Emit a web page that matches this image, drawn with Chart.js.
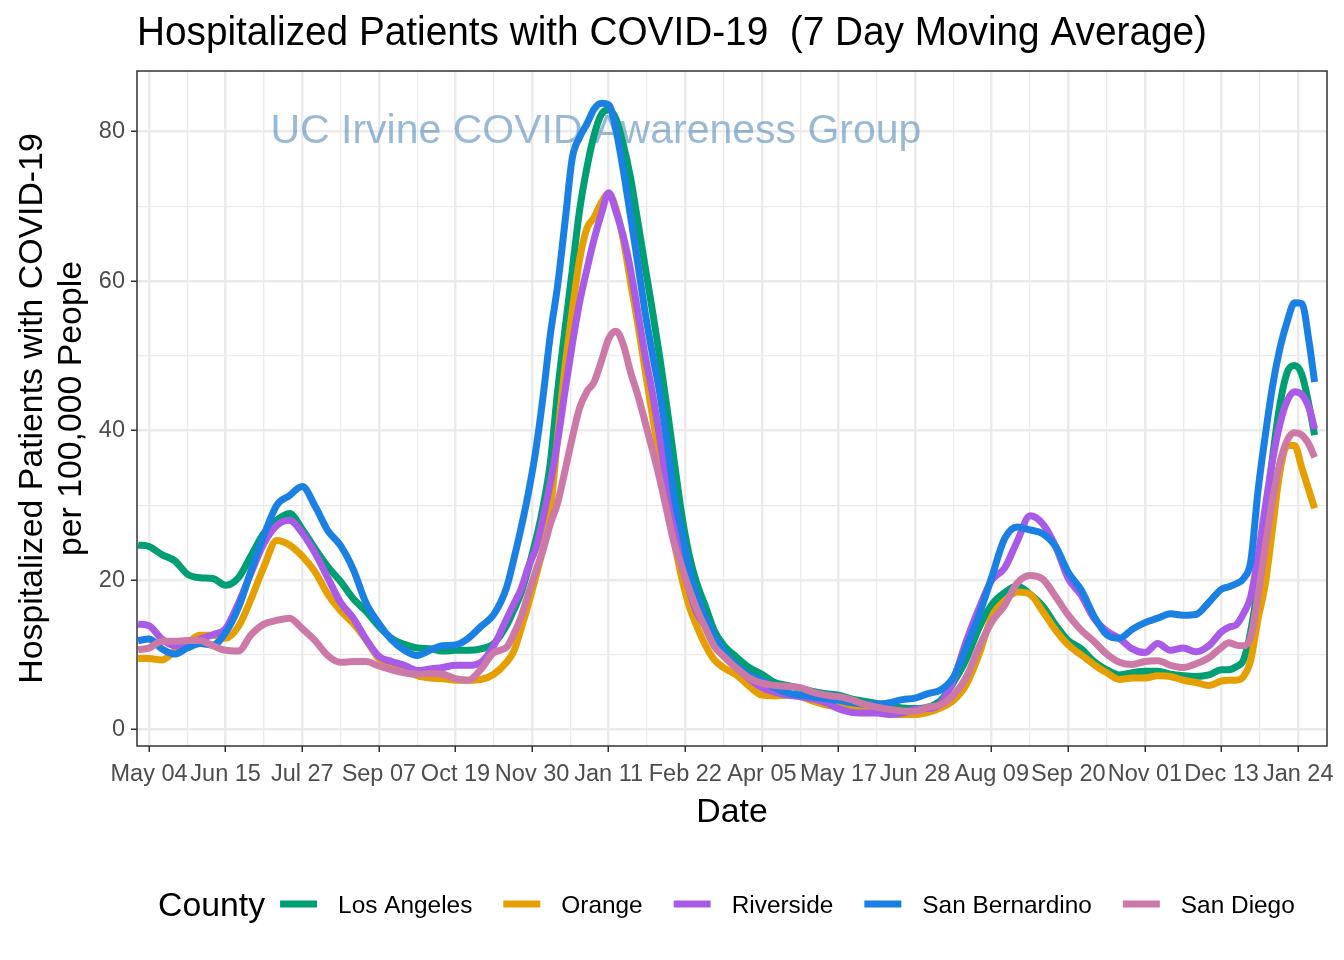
<!DOCTYPE html>
<html>
<head>
<meta charset="utf-8">
<script src="https://cdn.jsdelivr.net/npm/chart.js@4"></script>
<style>
  html, body { margin: 0; padding: 0; background: #ffffff; }
  #wrap { width: 1344px; height: 960px; }
</style>
</head>
<body>
<div id="wrap"><canvas id="c" width="1344" height="960"></canvas></div>
<script>
// ---- data (days counted from 2020-05-04) ----
const days = [
  -6,0,7,14,21,28,35,42,49,56,
  63,70,77,84,91,98,105,112,119,126,
  133,140,147,154,161,168,175,182,189,196,
  200,204,208,212,216,220,224,228,232,236,
  240,244,248,252,256,260,264,268,272,276,
  280,284,288,292,296,300,305,310,315,322,
  329,336,343,350,357,364,371,378,385,392,
  399,406,413,420,427,434,441,448,455,462,
  469,476,483,490,497,504,511,518,525,532,
  539,546,553,560,567,574,581,588,592,596,
  600,604,608,612,616,620,624,628,632,636,
  639
];
const losAngeles = [
  24.7,24.5,23.4,22.6,20.8,20.3,20.2,19.3,20.3,23.3,
  26.3,28.0,28.9,26.8,24.2,21.8,19.8,17.5,15.8,13.8,
  12.2,11.4,10.9,10.8,10.5,10.6,10.6,10.8,11.5,13.9,
  16.0,18.3,21.6,25.3,29.8,35.7,45.3,53.5,61.4,69.4,
  75.1,79.5,82.3,82.9,81.7,78.3,73.8,67.9,61.9,56.0,
  49.8,43.0,35.8,28.8,23.5,19.8,16.5,13.2,11.3,9.7,
  8.3,7.4,6.3,5.9,5.5,5.1,4.8,4.6,4.1,3.8,
  3.5,3.2,2.9,2.8,3.0,3.9,6.3,9.4,13.6,16.7,
  18.3,19.2,18.1,16.5,14.0,11.9,10.8,9.1,8.0,7.3,
  7.6,7.8,7.8,7.4,7.2,7.1,7.3,8.0,8.0,8.4,
  9.3,13.2,19.5,28.0,36.5,43.5,47.8,48.7,47.5,43.3,
  39.4
];
const orange = [
  9.5,9.5,9.3,10.5,11.6,12.6,12.6,12.2,13.8,17.5,
  21.8,25.3,24.7,23.2,21.1,18.1,15.9,14.2,12.0,9.5,
  8.7,8.0,7.2,6.9,6.8,6.6,6.6,6.7,7.4,9.0,
  10.5,13.5,16.8,20.4,24.3,29.2,39.1,48.4,56.0,62.8,
  67.0,68.5,70.5,71.7,69.7,65.5,59.8,54.2,48.0,42.0,
  36.0,29.7,25.0,20.3,16.6,14.0,11.3,9.3,8.3,7.3,
  5.8,4.6,4.5,4.6,4.4,3.8,3.3,3.0,2.8,2.6,
  2.4,2.2,2.0,2.0,2.3,2.9,3.9,6.0,10.0,15.1,
  17.2,18.4,18.1,15.8,13.3,11.3,10.0,8.7,7.6,6.7,
  6.9,6.9,7.2,7.1,6.6,6.3,5.9,6.5,6.6,6.6,
  7.1,9.3,14.8,19.5,27.0,34.5,38.0,38.0,35.0,31.9,
  29.6
];
const riverside = [
  14.1,13.9,12.1,11.2,11.5,12.1,12.7,13.5,16.9,21.0,
  24.9,27.3,28.0,26.3,23.6,20.3,17.0,14.9,12.1,9.8,
  9.1,8.6,7.9,8.1,8.3,8.6,8.6,9.0,11.2,14.8,
  16.8,18.8,21.8,24.2,28.3,33.0,38.6,45.2,51.5,57.1,
  61.5,65.6,69.0,71.8,69.3,66.0,61.5,55.8,50.0,45.0,
  39.0,32.5,27.0,22.2,18.8,15.8,13.8,11.4,10.0,8.3,
  6.8,5.6,5.0,4.6,4.4,4.1,3.6,2.8,2.3,2.2,
  2.2,2.0,2.2,2.7,2.8,3.5,6.7,11.8,16.2,20.0,
  21.6,25.2,28.6,27.5,24.5,20.2,18.0,14.9,13.2,12.2,
  10.8,10.3,11.5,10.6,10.9,10.4,11.2,13.1,13.7,14.0,
  15.5,17.8,23.2,29.8,36.1,40.9,44.0,45.2,44.8,43.0,
  40.2
];
const sanBernardino = [
  11.9,12.1,10.8,10.1,10.9,11.5,11.3,13.0,16.3,21.3,
  26.0,30.0,31.3,32.5,29.9,26.6,24.6,21.4,16.9,14.2,
  12.0,10.6,9.9,10.6,11.2,11.3,12.2,13.8,15.4,19.0,
  22.8,27.0,31.7,37.3,44.5,52.8,59.4,67.8,76.4,79.2,
  81.0,83.0,83.8,83.6,80.2,74.8,68.6,62.3,55.8,50.2,
  45.0,38.4,31.0,26.5,21.7,18.2,15.0,12.5,10.5,8.6,
  7.3,6.6,5.6,4.9,4.6,4.4,4.1,3.9,3.6,3.4,
  3.4,3.6,4.0,4.2,4.8,5.3,7.0,11.0,15.3,20.4,
  25.5,27.1,26.7,26.2,24.5,21.0,18.7,15.2,12.7,12.2,
  13.4,14.3,14.9,15.5,15.3,15.4,17.0,18.8,19.1,19.5,
  20.2,22.5,32.0,39.4,46.0,51.0,54.6,57.1,57.0,51.8,
  46.5
];
const sanDiego = [
  10.7,10.9,11.8,11.8,11.9,11.9,11.2,10.6,10.5,12.7,
  14.1,14.6,14.9,13.5,11.9,9.9,9.0,9.1,9.1,8.5,
  8.0,7.6,7.4,7.5,7.4,6.8,6.6,8.1,10.3,11.0,
  12.8,15.1,18.2,21.2,24.0,27.5,30.3,34.6,39.0,43.0,
  45.2,46.5,49.3,52.3,53.3,51.5,47.8,44.7,41.1,37.4,
  33.5,29.1,24.8,21.8,18.9,16.3,13.6,11.1,9.8,8.2,
  6.9,6.2,5.9,5.8,5.6,5.0,4.6,4.4,4.0,3.4,
  3.0,2.7,2.5,2.4,3.0,3.3,4.6,7.0,11.0,14.4,
  16.6,19.6,20.6,20.1,17.8,15.3,13.3,11.8,10.1,9.0,
  8.7,9.1,9.2,8.6,8.3,8.8,9.6,11.0,11.6,11.3,
  11.2,12.4,18.0,24.5,30.8,35.7,38.7,39.7,39.4,38.1,
  36.4
];
const countyNames  = ['Los Angeles','Orange','Riverside','San Bernardino','San Diego'];
const countyColors = ['#009E73','#E69F00','#A95AE6','#1B80E3','#CC79A7'];
const countyValues = [losAngeles, orange, riverside, sanBernardino, sanDiego];

const xTickDays   = [0,42,84,126,168,210,252,294,336,378,420,462,504,546,588,630];
const xTickLabels = ['May 04','Jun 15','Jul 27','Sep 07','Oct 19','Nov 30','Jan 11','Feb 22',
                     'Apr 05','May 17','Jun 28','Aug 09','Sep 20','Nov 01','Dec 13','Jan 24'];
const yTickValues = [0,20,40,60,80];

const titleText     = 'Hospitalized Patients with COVID-19  (7 Day Moving Average)';
const watermarkText = 'UC Irvine COVID Awareness Group';
const watermarkDay  = 245;
const watermarkVal  = 80;

// ---- styling ----
const FONT = '"Liberation Sans", Arial, Helvetica, sans-serif';
const xGrid = [];
xTickDays.forEach((d, i) => { xGrid.push(d); if (i < xTickDays.length - 1) xGrid.push(d + 21); });
const yGrid = [];
yTickValues.forEach((v, i) => { yGrid.push(v); if (i < yTickValues.length - 1) yGrid.push(v + 10); });

const datasets = countyNames.map((name, i) => ({
  label: name,
  data: days.map((d, j) => ({ x: d, y: countyValues[i][j] })),
  borderColor: countyColors[i],
  backgroundColor: countyColors[i],
  borderWidth: 7,
  borderCapStyle: 'butt',
  borderJoinStyle: 'round',
  pointRadius: 0,
  cubicInterpolationMode: 'monotone',
  fill: false,
  order: countyNames.length - i
}));

const ggPlugin = {
  id: 'gg',
  beforeDraw(chart) {
    const c = chart.ctx;
    c.save(); c.fillStyle = '#ffffff'; c.fillRect(0, 0, chart.width, chart.height); c.restore();
  },
  beforeDatasetsDraw(chart) {
    const c = chart.ctx, xs = chart.scales.x, ys = chart.scales.y;
    c.save();
    c.font = '41px ' + FONT;
    c.fillStyle = 'rgba(70,130,180,0.55)';
    c.textAlign = 'center';
    c.textBaseline = 'middle';
    c.fillText(watermarkText, xs.getPixelForValue(watermarkDay), ys.getPixelForValue(watermarkVal));
    c.restore();
  },
  afterDraw(chart) {
    const c = chart.ctx, a = chart.chartArea;
    c.save();
    // panel border
    c.strokeStyle = '#333333'; c.lineWidth = 1.5;
    c.strokeRect(a.left, a.top, a.right - a.left, a.bottom - a.top);
    // title
    c.font = '40px ' + FONT;
    c.fillStyle = '#000000';
    c.textAlign = 'left'; c.textBaseline = 'alphabetic';
    const tw = c.measureText(titleText).width;
    const target = 1070;
    c.save();
    c.translate(a.left, 45);
    c.scale(target / tw, 1);
    c.fillText(titleText, 0, 0);
    c.restore();
    // legend
    const ly = 904;
    c.font = '33.8px ' + FONT;
    c.textBaseline = 'alphabetic';
    let x = 158;
    c.fillText('County', x, ly + 12);
    x += c.measureText('County').width + 15;
    chart.data.datasets.forEach(ds => {
      c.strokeStyle = ds.borderColor; c.lineWidth = 7; c.lineCap = 'butt';
      c.beginPath(); c.moveTo(x, ly); c.lineTo(x + 37, ly); c.stroke();
      x += 37 + 21;
      c.font = '24.4px ' + FONT;
      c.fillStyle = '#000000';
      c.fillText(ds.label, x, ly + 9);
      x += c.measureText(ds.label).width + 31;
    });
    c.restore();
  }
};

new Chart(document.getElementById('c'), {
  type: 'line',
  data: { datasets },
  plugins: [ggPlugin],
  options: {
    responsive: false,
    devicePixelRatio: 1,
    animation: false,
    layout: { padding: { top: 71, right: 17, bottom: 119, left: 0 } },
    plugins: { legend: { display: false }, title: { display: false }, tooltip: { enabled: false } },
    scales: {
      x: {
        type: 'linear', min: -6.6, max: 645.8,
        afterBuildTicks: s => { s.ticks = xGrid.map(v => ({ value: v })); },
        afterFit: s => { s.height = 95; s.paddingLeft = 0; s.paddingRight = 0; },
        ticks: {
          autoSkip: false, maxRotation: 0, minRotation: 0, padding: 8,
          color: '#4D4D4D', font: { family: FONT, size: 23.5 },
          callback: v => { const i = xTickDays.indexOf(v); return i >= 0 ? xTickLabels[i] : ''; }
        },
        grid: {
          color: '#EBEBEB',
          lineWidth: ctx => (ctx.tick && xTickDays.includes(ctx.tick.value)) ? 2.5 : 1.3,
          drawTicks: true, tickLength: 6, tickWidth: 1.5,
          tickColor: ctx => (ctx.tick && xTickDays.includes(ctx.tick.value)) ? '#333333' : 'rgba(0,0,0,0)'
        },
        border: { display: false },
        title: { display: true, text: 'Date', color: '#000000', font: { family: FONT, size: 33.8 }, padding: { top: 0, bottom: 8 } }
      },
      y: {
        type: 'linear', min: -2.2, max: 88.1,
        afterBuildTicks: s => { s.ticks = yGrid.map(v => ({ value: v })); },
        afterFit: s => { s.width = 137; s.paddingTop = 0; s.paddingBottom = 0; },
        ticks: {
          padding: 6, color: '#4D4D4D', font: { family: FONT, size: 23.5 },
          callback: v => yTickValues.includes(v) ? String(v) : ''
        },
        grid: {
          color: '#EBEBEB',
          lineWidth: ctx => (ctx.tick && yTickValues.includes(ctx.tick.value)) ? 2.5 : 1.3,
          drawTicks: true, tickLength: 6, tickWidth: 1.5,
          tickColor: ctx => (ctx.tick && yTickValues.includes(ctx.tick.value)) ? '#333333' : 'rgba(0,0,0,0)'
        },
        border: { display: false },
        title: {
          display: true, text: ['Hospitalized Patients with COVID-19', 'per 100,000 People'],
          color: '#000000', font: { family: FONT, size: 33.8, lineHeight: 1.13 }, padding: { top: 14, bottom: 0 }
        }
      }
    }
  }
});
</script>
</body>
</html>
